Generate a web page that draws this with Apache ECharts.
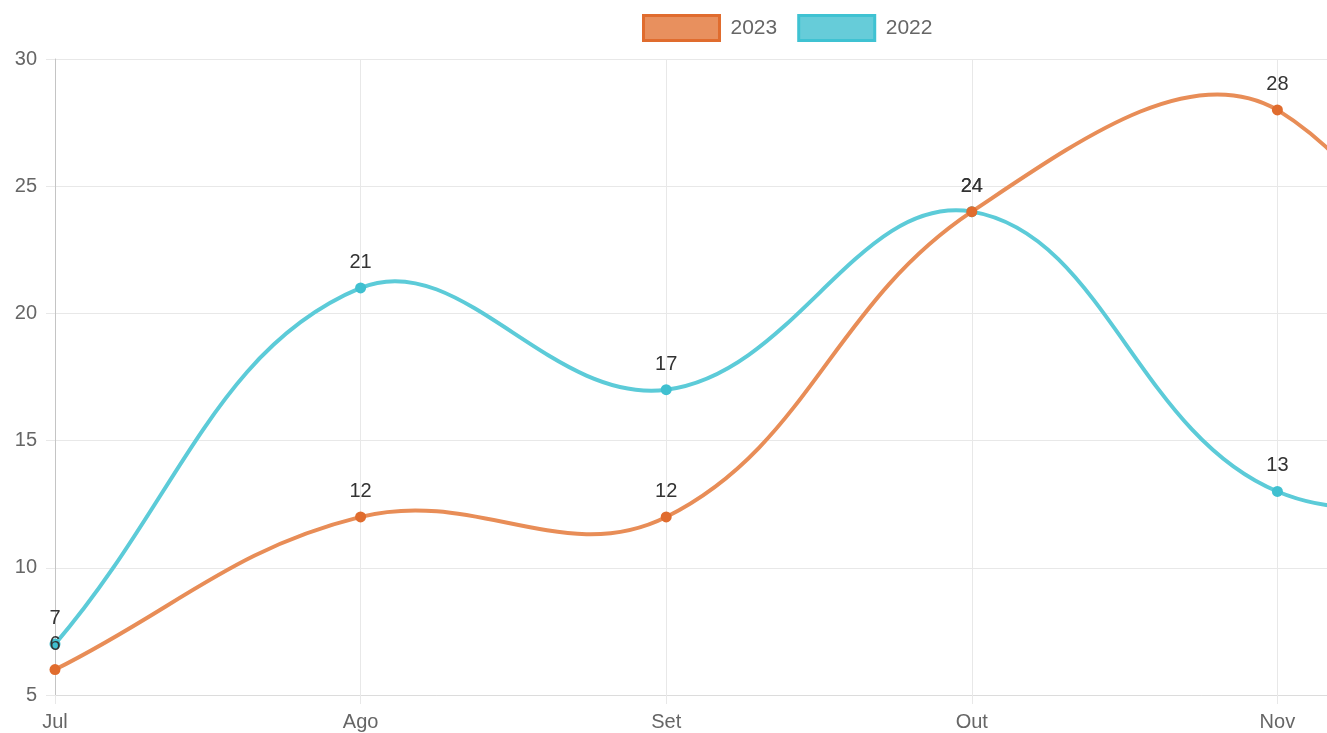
<!DOCTYPE html>
<html>
<head>
<meta charset="utf-8">
<script src="https://cdn.jsdelivr.net/npm/echarts@6/dist/echarts.min.js"></script>
<style>
	html,body{margin:0;padding:0;overflow:hidden;background:#fff}
	#chart{width:1640px;height:733px}
</style>
</head>
<body>
<div id="chart"></div>
<script>
// months (Dez is past the right edge of the visible picture)
const months=["Jul","Ago","Set","Out","Nov","Dez"]
const values2023=[6,12,12,24,28,9]
const values2022=[7,21,17,24,13,14]
const yTicks={min:5,max:30,interval:5}

const orangeLine="#e88d57",orangeDot="#e06c2e"
const cyanLine="#5ccbd8",cyanDot="#40c0d0"
const gridColor="#e8e8e8"
const tension=0.4

const chart=echarts.init(document.getElementById("chart"))

// cardinal spline like chart.js (tension 0.4, control points kept inside the plot area)
const splinePath=(values,color)=>{
	return (params,api)=>{
		const pts=values.map((v,i)=>api.coord([i,v]))
		const area=params.coordSys
		const cap=p=>[
			Math.min(Math.max(p[0],area.x),area.x+area.width),
			Math.min(Math.max(p[1],area.y),area.y+area.height)
		]
		const cps=pts.map((cur,i)=>{
			const prev=pts[i-1]||cur,next=pts[i+1]||cur
			const d01=Math.hypot(cur[0]-prev[0],cur[1]-prev[1])
			const d12=Math.hypot(next[0]-cur[0],next[1]-cur[1])
			let s01=d01/(d01+d12),s12=d12/(d01+d12)
			if(isNaN(s01)) s01=0
			if(isNaN(s12)) s12=0
			const fa=tension*s01,fb=tension*s12
			return {
				before:cap([cur[0]-fa*(next[0]-prev[0]),cur[1]-fa*(next[1]-prev[1])]),
				after:cap([cur[0]+fb*(next[0]-prev[0]),cur[1]+fb*(next[1]-prev[1])])
			}
		})
		let d="M"+pts[0][0]+" "+pts[0][1]
		for(let i=1;i<pts.length;i++){
			const a=cps[i-1].after,b=cps[i].before
			d+=" C"+a[0]+" "+a[1]+" "+b[0]+" "+b[1]+" "+pts[i][0]+" "+pts[i][1]
		}
		return {
			type:"path",
			shape:{pathData:d},
			style:{fill:null,stroke:color,lineWidth:4,lineJoin:"round"}
		}
	}
}

const labelStyle={
	show:true,
	position:"top",
	distance:10,
	fontSize:20,
	color:"#333",
	fontFamily:"Liberation Sans"
}

chart.setOption({
	animation:false,
	textStyle:{fontFamily:"Liberation Sans"},
	legend:{
		left:637,
		top:9,
		itemWidth:76,
		itemHeight:25,
		itemGap:20,
		textStyle:{fontSize:21,color:"#666",padding:[0,0,0,6]},
		data:[
			{name:"2023",icon:"rect",itemStyle:{color:"#e8905e",borderColor:orangeDot,borderWidth:3}},
			{name:"2022",icon:"rect",itemStyle:{color:"#66ccd9",borderColor:"#3fc2d2",borderWidth:3}}
		]
	},
	grid:{
		left:55,
		right:57,
		top:59,
		bottom:38
	},
	xAxis:{
		type:"category",
		data:months,
		boundaryGap:false,
		axisLine:{lineStyle:{color:"#dcdcdc",width:1}},
		axisTick:{show:true,length:9,lineStyle:{color:gridColor}},
		axisLabel:{color:"#666",fontSize:20,margin:17},
		splitLine:{show:true,lineStyle:{color:gridColor}}
	},
	yAxis:{
		type:"value",
		min:yTicks.min,
		max:yTicks.max,
		interval:yTicks.interval,
		axisLine:{show:true,lineStyle:{color:"#c4c4c4",width:1}},
		axisTick:{show:true,length:9,lineStyle:{color:gridColor}},
		axisLabel:{color:"#666",fontSize:20,margin:18},
		splitLine:{show:true,lineStyle:{color:gridColor}}
	},
	series:[
		{
			name:"2022",
			type:"custom",
			renderItem:splinePath(values2022,cyanLine),
			data:[[0,values2022[0]]],
			silent:true,
			z:2
		},
		{
			name:"2022",
			type:"line",
			data:values2022,
			symbol:"circle",
			symbolSize:11,
			lineStyle:{opacity:0},
			itemStyle:{color:cyanDot},
			label:labelStyle,
			z:3
		},
		{
			name:"2023",
			type:"custom",
			renderItem:splinePath(values2023,orangeLine),
			data:[[0,values2023[0]]],
			silent:true,
			z:4
		},
		{
			name:"2023",
			type:"line",
			data:values2023,
			symbol:"circle",
			symbolSize:11,
			lineStyle:{opacity:0},
			itemStyle:{color:orangeDot},
			label:labelStyle,
			z:5
		}
	]
})
</script>
</body>
</html>
